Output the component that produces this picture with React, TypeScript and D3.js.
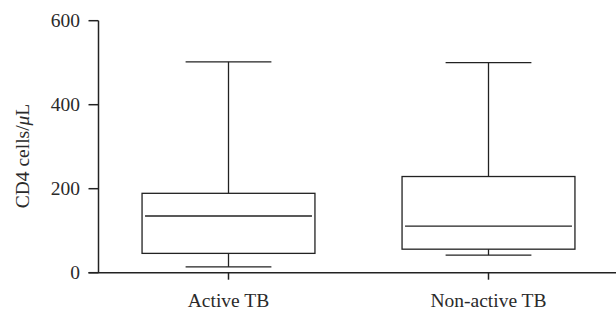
import React from "react";
import * as d3 from "d3";

const categories = ["Active TB", "Non-active TB"];
const whiskerMin = [14, 42];
const q1 = [46, 56];
const median = [135, 111];
const q3 = [189, 229];
const whiskerMax = [502, 500];
const yTicks = [0, 200, 400, 600];

const W = 616;
const H = 310;

export default function App() {
  const x = d3.scalePoint<string>().domain(categories).range([98.5, 618.5]).padding(0.5);
  const step = x.step();
  const y = d3.scaleLinear().domain([0, 600]).range([272.7, 20.7]);
  const boxW = step * 0.665;
  const capW = step * 0.33;
  const stroke = "#222";
  const font = "'Liberation Serif', 'DejaVu Serif', serif";
  return (
    <svg width={W} height={H} style={{ position: "absolute", left: 0, top: 0, background: "#fff" }}>
      <g stroke={stroke} fill="none" strokeWidth={1.3}>
        <line x1={98.5} x2={98.5} y1={y(600)} y2={y(0)} strokeWidth={1.5} />
        {yTicks.map((t) => (
          <line key={t} x1={88.5} x2={98.5} y1={y(t)} y2={y(t)} strokeWidth={1.5} />
        ))}
        <line x1={88.5} x2={616} y1={y(0)} y2={y(0)} strokeWidth={1.5} />
        {categories.map((c) => (
          <line key={c} x1={x(c)!} x2={x(c)!} y1={y(0)} y2={y(0) + 7} strokeWidth={1.5} />
        ))}
        {categories.map((c, i) => {
          const cx = x(c)!;
          return (
            <g key={c}>
              <line x1={cx} x2={cx} y1={y(q3[i])} y2={y(whiskerMax[i])} />
              <line x1={cx} x2={cx} y1={y(q1[i])} y2={y(whiskerMin[i])} />
              <line x1={cx - capW / 2} x2={cx + capW / 2} y1={y(whiskerMax[i])} y2={y(whiskerMax[i])} />
              <line x1={cx - capW / 2} x2={cx + capW / 2} y1={y(whiskerMin[i])} y2={y(whiskerMin[i])} />
              <rect x={cx - boxW / 2} y={y(q3[i])} width={boxW} height={y(q1[i]) - y(q3[i])} />
              <line x1={cx - boxW / 2 + 3} x2={cx + boxW / 2 - 3} y1={y(median[i])} y2={y(median[i])} />
            </g>
          );
        })}
      </g>
      <g fontFamily={font} fontSize={19.5} fill="#2a2a2a">
        {yTicks.map((t) => (
          <text key={t} x={80} y={y(t)} dy="0.3em" textAnchor="end">
            {t}
          </text>
        ))}
        {categories.map((c) => (
          <text key={c} x={x(c)!} y={307} textAnchor="middle">
            {c}
          </text>
        ))}
        <text transform={`translate(29,156) rotate(-90)`} textAnchor="middle">
          CD4 cells/<tspan fontStyle="italic">μ</tspan>L
        </text>
      </g>
    </svg>
  );
}
